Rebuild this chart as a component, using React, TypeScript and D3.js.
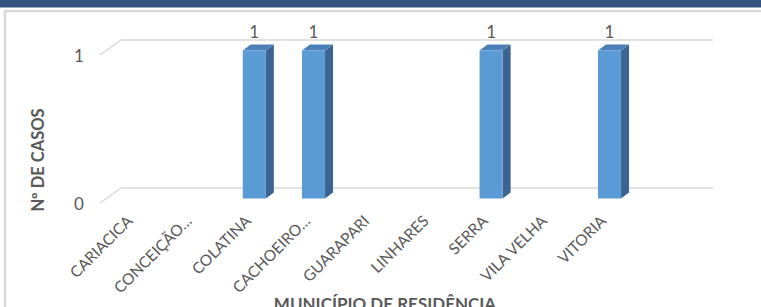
import { useEffect, useRef } from "react";
import * as d3 from "d3";

const categories = [
  "CARIACICA",
  "CONCEIÇÃO…",
  "COLATINA",
  "CACHOEIRO…",
  "GUARAPARI",
  "LINHARES",
  "SERRA",
  "VILA VELHA",
  "VITORIA",
];
const casos = [0, 0, 1, 1, 0, 0, 1, 0, 1];
const yTicks = [0, 1];

const W = 761;
const H = 307;
const FONT = "Lato, 'Open Sans', sans-serif";
const TXT = "#595959";

const App = () => {
  const svgRef = useRef<SVGSVGElement>(null);

  useEffect(() => {
    const svg = d3.select(svgRef.current);
    svg.selectAll("*").remove();

    // front plane of the 3d box, back wall is shifted by (depthX, depthY)
    const left = 100;
    const right = 692;
    const depthX = 21;
    const depthY = -15;

    const x = d3
      .scaleBand<string>()
      .domain(categories)
      .range([left, left + ((right - left) / 10) * 9])
      .paddingInner(0.61)
      .paddingOuter(0.305);

    const y = d3.scaleLinear().domain([0, 1]).range([203, 55]);

    // header band + frame
    svg.append("rect").attr("x", 0).attr("y", 0).attr("width", W).attr("height", 7.5).attr("fill", "#34527f");
    svg
      .append("path")
      .attr("d", `M5,${H} L5,11 L${W},11`)
      .attr("fill", "none")
      .attr("stroke", "#d9d9d9")
      .attr("stroke-width", 2.5);

    // gridlines: back wall + left wall diagonal
    const grid = svg.append("g").attr("stroke", "#d9d9d9").attr("stroke-width", 1.5).attr("fill", "none");
    yTicks.forEach((t) => {
      const yy = y(t);
      grid
        .append("path")
        .attr("d", `M${left},${yy} L${left + depthX},${yy + depthY} L${right + depthX},${yy + depthY}`);
    });

    svg
      .append("g")
      .selectAll("text")
      .data(yTicks)
      .join("text")
      .attr("x", 79)
      .attr("y", (d) => y(d) + 7)
      .attr("text-anchor", "middle")
      .style("font-family", FONT)
      .style("font-size", "17px")
      .attr("fill", TXT)
      .text((d) => d);

    // bars
    const t0 = 0.3;
    const bx = depthX * t0;
    const by = depthY * t0;
    const sx = 8;
    const sy = -6;
    const bw = x.bandwidth();
    const bars = svg
      .append("g")
      .selectAll("g")
      .data(categories.map((c, i) => ({ c, v: casos[i] })).filter((d) => d.v > 0))
      .join("g");

    bars.each(function (d) {
      const g = d3.select(this);
      const x0 = (x(d.c) as number) + bx;
      const yTop = y(d.v) + by;
      const yBot = y(0) + by;
      g.append("path")
        .attr("d", `M${x0 + bw},${yTop} L${x0 + bw + sx},${yTop + sy} L${x0 + bw + sx},${yBot + sy} L${x0 + bw},${yBot} Z`)
        .attr("fill", "#3b6590");
      g.append("path")
        .attr("d", `M${x0},${yTop} L${x0 + sx},${yTop + sy} L${x0 + bw + sx},${yTop + sy} L${x0 + bw},${yTop} Z`)
        .attr("fill", "#4a7fb9");
      g.append("rect")
        .attr("x", x0)
        .attr("y", yTop)
        .attr("width", bw)
        .attr("height", yBot - yTop)
        .attr("fill", "#5b9bd5");
      g.append("text")
        .attr("x", x0 + bw / 2)
        .attr("y", y(d.v) - 17)
        .attr("text-anchor", "middle")
        .style("font-family", FONT)
        .style("font-size", "17px")
        .attr("fill", TXT)
        .text(d.v);
    });

    // category labels
    svg
      .append("g")
      .selectAll("text")
      .data(categories)
      .join("text")
      .attr("text-anchor", "end")
      .attr("transform", (d) => `translate(${(x(d) as number) + bw / 2 + 4},222) rotate(-45)`)
      .style("font-family", FONT)
      .style("font-size", "15.5px")
      .attr("fill", TXT)
      .text((d) => d);

    // axis titles
    svg
      .append("text")
      .attr("transform", "translate(44,160) rotate(-90)")
      .attr("text-anchor", "middle")
      .style("font-family", FONT)
      .style("font-size", "16.5px")
      .style("font-weight", "bold")
      .attr("fill", TXT)
      .text("Nº DE CASOS");

    svg
      .append("text")
      .attr("x", 385)
      .attr("y", 310)
      .attr("text-anchor", "middle")
      .style("font-family", FONT)
      .style("font-size", "17px")
      .style("font-weight", "bold")
      .attr("fill", TXT)
      .text("MUNICÍPIO DE RESIDÊNCIA");
  }, []);

  return (
    <div style={{ position: "fixed", left: 0, top: 0, background: "#fff" }}>
      <svg ref={svgRef} width={W} height={H} style={{ display: "block" }} />
    </div>
  );
};

export default App;
